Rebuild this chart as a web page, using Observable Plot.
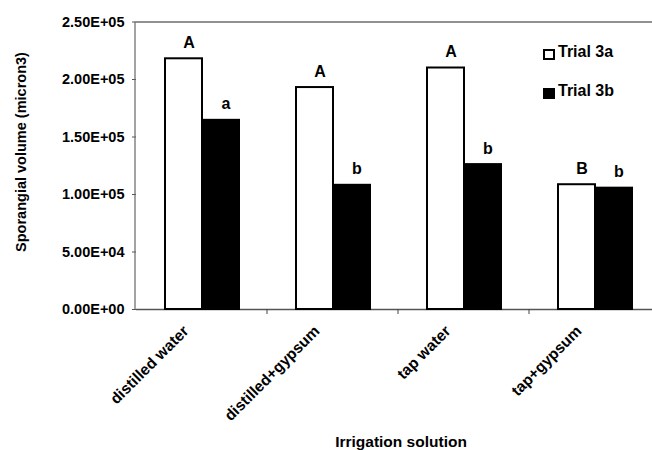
<!DOCTYPE html>
<html>
<head>
<meta charset="utf-8">
<script src="https://cdn.jsdelivr.net/npm/d3@7"></script>
<script src="https://cdn.jsdelivr.net/npm/@observablehq/plot@0.6"></script>
<style>
  html, body { margin: 0; padding: 0; background: white; overflow: hidden; }
  #wrap { position: relative; width: 660px; height: 450px; font-family: "Liberation Sans", Arial, sans-serif; font-weight: bold; }
  .leg { position: absolute; display: flex; align-items: center; font-size: 16px; color: #000; }
  .sw { display: inline-block; box-sizing: border-box; margin-right: 3px; }
</style>
</head>
<body>
<div id="wrap"></div>
<script>
const categories = ["distilled water", "distilled+gypsum", "tap water", "tap+gypsum"];
const trials = ["Trial 3a", "Trial 3b"];
const trial3a = [2.18e5, 1.93e5, 2.10e5, 1.085e5];
const trial3b = [1.645e5, 1.08e5, 1.26e5, 1.055e5];
const letters3a = ["A", "A", "A", "B"];
const letters3b = ["a", "b", "b", "b"];
const yTicks = [0, 5e4, 1e5, 1.5e5, 2e5, 2.5e5];
const xTitle = "Irrigation solution";
const yTitle = "Sporangial volume (micron3)";

const rows = [];
categories.forEach((c, i) => {
  rows.push({cat: c, trial: trials[0], value: trial3a[i], letter: letters3a[i]});
  rows.push({cat: c, trial: trials[1], value: trial3b[i], letter: letters3b[i]});
});

function sci(v) {
  const [m, e] = v.toExponential(2).split("e");
  const sign = e[0] === "-" ? "-" : "+";
  return m + "E" + sign + String(Math.abs(+e)).padStart(2, "0");
}

const chart = Plot.plot({
  width: 660,
  height: 450,
  marginLeft: 135,
  marginRight: 0,
  marginTop: 21.5,
  marginBottom: 141,
  style: {fontFamily: "'Liberation Sans', Arial, sans-serif", fontWeight: "bold", fontSize: "14px", maxWidth: "none", overflow: "visible", background: "white"},
  fx: {domain: categories, padding: 0},
  x: {domain: trials, paddingInner: 0, paddingOuter: 0.73, axis: null},
  y: {domain: [0, 2.5e5]},
  color: {domain: trials, range: ["white", "black"]},
  marks: [
    Plot.ruleY([2.5e5], {stroke: "#222", strokeWidth: 1}),
    Plot.ruleY([0], {stroke: "#555", strokeWidth: 1.5}),
    Plot.barY(rows, {fx: "cat", x: "trial", y: "value", fill: "trial", stroke: "black", strokeWidth: 2}),
    Plot.text(rows, {fx: "cat", x: "trial", y: "value", text: "letter", dy: -16, dx: 5, fontSize: 16, fontWeight: "bold", fill: "black"}),
    Plot.axisY({ticks: yTicks, tickFormat: sci, tickSize: 4, tickPadding: 8, fontSize: 14.5, fontWeight: "bold", label: null, stroke: "#555"}),
    Plot.axisFx({anchor: "bottom", tickSize: 0, tickRotate: -45, tickPadding: 10, dx: -16, dy: 9, fontSize: 15.5, fontWeight: "bold", label: null})
  ]
});

document.getElementById("wrap").appendChild(chart);

const svg = d3.select(chart);
svg.selectAll('g[aria-label="y-axis tick label"] text').style("font-size", "14.5px");
svg.selectAll('g[aria-label="fx-axis tick label"] text').style("font-size", "15.5px");
const fx = chart.scale("fx");
const y = chart.scale("y");
const y0 = y.apply(0);
const yTop = y.apply(2.5e5);
// left axis line
svg.append("line")
  .attr("x1", fx.range[0]).attr("x2", fx.range[0])
  .attr("y1", yTop).attr("y2", y0)
  .attr("stroke", "#666").attr("stroke-width", 1.2);
// category boundary ticks
categories.slice(1).forEach(c => {
  const xb = fx.apply(c);
  svg.append("line")
    .attr("x1", xb).attr("x2", xb)
    .attr("y1", y0).attr("y2", y0 + 5)
    .attr("stroke", "#444").attr("stroke-width", 1);
});
// axis titles
svg.append("text")
  .attr("transform", "translate(22,152) rotate(-90)")
  .attr("text-anchor", "middle")
  .attr("dominant-baseline", "middle")
  .attr("font-size", 14.5).attr("font-weight", "bold").attr("fill", "black")
  .text(yTitle);
svg.append("text")
  .attr("x", 401).attr("y", 447)
  .attr("text-anchor", "middle")
  .attr("font-size", 15.5).attr("font-weight", "bold").attr("fill", "black")
  .text(xTitle);

// legend
const wrap = document.getElementById("wrap");
const legendItems = [
  {label: trials[0], top: 43, fill: "white"},
  {label: trials[1], top: 82, fill: "black"}
];
legendItems.forEach(it => {
  const d = document.createElement("div");
  d.className = "leg";
  d.style.left = "543px";
  d.style.top = it.top + "px";
  const sw = document.createElement("span");
  sw.className = "sw";
  sw.style.width = "12px";
  sw.style.height = "11px";
  sw.style.background = it.fill;
  sw.style.border = "2px solid black";
  sw.style.marginTop = "5px";
  d.appendChild(sw);
  const t = document.createElement("span");
  t.textContent = it.label;
  d.appendChild(t);
  wrap.appendChild(d);
});
</script>
</body>
</html>
